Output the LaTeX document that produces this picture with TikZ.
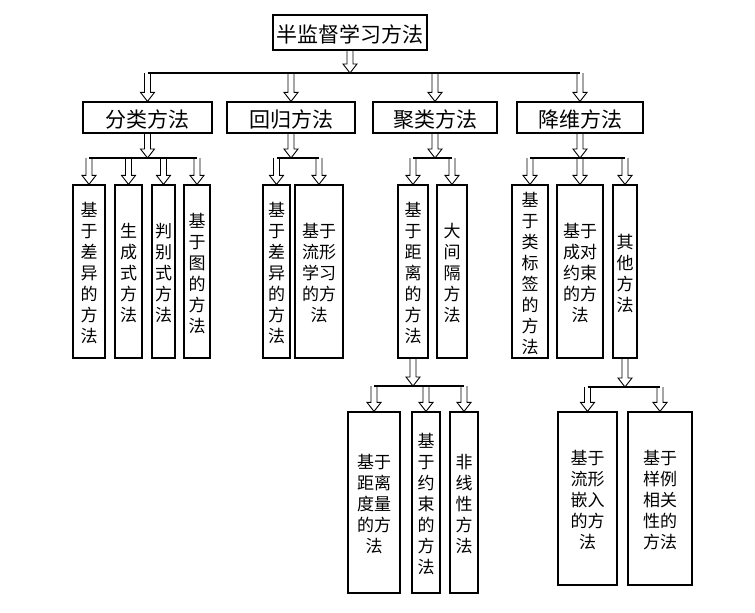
\documentclass[tikz,border=0pt]{standalone}
\usepackage{fontspec}
\newfontfamily\cjk{Noto Sans CJK SC}
\usetikzlibrary{fit,calc}
\tikzset{
 box/.style={draw, line width=1.2pt, inner sep=0pt},
 vtext/.style={inner sep=0pt, align=center, yshift=-2pt, font=\cjk\fontsize{17}{21}\selectfont},
 htext/.style={vtext, font=\cjk\fontsize{21}{23}\selectfont},
 harrow/.style={draw, line width=0.9pt},
 barline/.style={draw, line width=1.2pt},
}
\newcommand\bx[6]{\node[box, fit={(#2,#3) (#4,#5)}] (#1) {}; \node[vtext] (#1t) at (#1.center) {#6};}
\newcommand\hx[6]{\node[box, fit={(#2,#3) (#4,#5)}] (#1) {}; \node[htext] (#1t) at (#1.center) {#6};}
\newcommand\harr[2]{\draw[harrow] let \p1=(#1), \p2=(#2) in (\x1-3pt,\y1) -- (\x1-3pt,\y2+9pt) -- (\x1-7pt,\y2+9pt) -- (\x1,\y2) -- (\x1+7pt,\y2+9pt) -- (\x1+3pt,\y2+9pt) -- (\x1+3pt,\y1);}
\begin{document}
\begin{tikzpicture}[x=1pt,y=-1pt]
\useasboundingbox (0,0) rectangle (755,613);
% root and level 2
\hx{root}{273}{15}{427}{50}{半监督学习方法}
\hx{c1}{83}{102}{212}{133}{分类方法}
\hx{c2}{227}{102}{355}{133}{回归方法}
\hx{c3}{373}{102}{497}{133}{聚类方法}
\hx{c4}{517}{102}{643}{133}{降维方法}
% level 3
\bx{l11}{73}{185}{105}{358}{基\\于\\差\\异\\的\\方\\法}
\bx{l12}{115}{185}{142}{358}{生\\成\\式\\方\\法}
\bx{l13}{152}{185}{175}{358}{判\\别\\式\\方\\法}
\bx{l14}{184}{185}{210}{358}{基\\于\\图\\的\\方\\法}
\bx{l21}{263}{185}{290}{358}{基\\于\\差\\异\\的\\方\\法}
\bx{l22}{295}{185}{343}{358}{基于\\流形\\学习\\的方\\法}
\bx{l31}{398}{185}{428}{358}{基\\于\\距\\离\\的\\方\\法}
\bx{l32}{437}{185}{467}{358}{大\\间\\隔\\方\\法}
\bx{l41}{512}{185}{548}{358}{基\\于\\类\\标\\签\\的\\方\\法}
\bx{l42}{557}{185}{603}{358}{基于\\成对\\约束\\的方\\法}
\bx{l43}{613}{185}{637}{358}{其\\他\\方\\法}
% level 4
\bx{m1}{348}{412}{400}{593}{基于\\距离\\度量\\的方\\法}
\bx{m2}{412}{412}{440}{593}{基\\于\\约\\束\\的\\方\\法}
\bx{m3}{450}{412}{478}{593}{非\\线\\性\\方\\法}
\bx{n1}{558}{412}{617}{585}{基于\\流形\\嵌入\\的方\\法}
\bx{n2}{628}{412}{692}{585}{基于\\样例\\相关\\性的\\方法}
% connectors
\coordinate (g0) at (root.south |- 0,73);
\harr{root.south}{g0}
\draw[barline] (c1.north |- g0) -- (c4.north |- g0);
\foreach \k in {c1,c2,c3,c4} {\harr{\k.north |- g0}{\k.north}}
\coordinate (g1) at (c1.south |- 0,158);
\harr{c1.south}{g1}
\draw[barline] (l11.north |- g1) -- (l14.north |- g1);
\foreach \k in {l11,l12,l13,l14} {\harr{\k.north |- g1}{\k.north}}
\coordinate (g2) at (c2.south |- 0,158);
\harr{c2.south}{g2}
\draw[barline] (l21.north |- g2) -- (l22.north |- g2);
\foreach \k in {l21,l22} {\harr{\k.north |- g2}{\k.north}}
\coordinate (g3) at (c3.south |- 0,158);
\harr{c3.south}{g3}
\draw[barline] (l31.north |- g3) -- (l32.north |- g3);
\foreach \k in {l31,l32} {\harr{\k.north |- g3}{\k.north}}
\coordinate (g4) at (c4.south |- 0,158);
\harr{c4.south}{g4}
\draw[barline] (l41.north |- g4) -- (l43.north |- g4);
\foreach \k in {l41,l42,l43} {\harr{\k.north |- g4}{\k.north}}
\coordinate (g5) at (l31.south |- 0,386);
\harr{l31.south}{g5}
\draw[barline] (m1.north |- g5) -- (m3.north |- g5);
\foreach \k in {m1,m2,m3} {\harr{\k.north |- g5}{\k.north}}
\coordinate (g6) at (l43.south |- 0,387);
\harr{l43.south}{g6}
\draw[barline] (n1.north |- g6) -- (n2.north |- g6);
\foreach \k in {n1,n2} {\harr{\k.north |- g6}{\k.north}}
\end{tikzpicture}
\end{document}
